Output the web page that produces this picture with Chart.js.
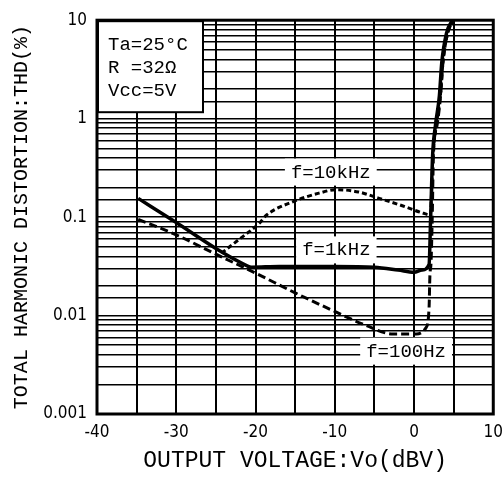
<!DOCTYPE html>
<html>
<head>
<meta charset="utf-8">
<script src="https://cdn.jsdelivr.net/npm/chart.js@4.4.1/dist/chart.umd.min.js"></script>
<style>
  html, body { margin: 0; padding: 0; background: #fff; overflow: hidden; }
  #wrap { width: 504px; height: 485px; overflow: hidden; }
</style>
</head>
<body>
<div id="wrap"><canvas id="thdChart" width="511" height="485"></canvas></div>
<script>
// values (x = Vo in dBV, y = THD in %)
const vo1k   = [-34.8, -30, -25, -22, -20.5, -17, -10, -5, -2, 0, 1, 1.9, 2.1, 2.35, 2.7, 3.2, 3.5, 4.1, 4.85];
const thd1k  = [0.155, 0.088, 0.048, 0.035, 0.031, 0.0315, 0.0315, 0.031, 0.029, 0.0275, 0.029, 0.033, 0.1, 0.43, 0.85, 1.7, 3.7, 7.4, 10];

const vo10k  = [-24.3, -22, -19.5, -18.6, -15.3, -12, -9.8, -7, -4.4, -1.8, 1.1, 2.05, 2.4, 2.85, 3.35, 3.65, 4.25, 5];
const thd10k = [0.043, 0.06, 0.087, 0.105, 0.143, 0.175, 0.19, 0.18, 0.155, 0.133, 0.11, 0.105, 0.43, 0.9, 1.8, 3.7, 7.4, 10];

const vo100  = [-34.8, -30, -25, -20, -15, -10, -6, -2.7, 0.3, 1.5, 1.9, 2.0, 2.15, 2.3, 2.45, 2.9, 3.35, 3.65, 4.25, 5];
const thd100 = [0.095, 0.066, 0.042, 0.027, 0.017, 0.011, 0.0079, 0.0065, 0.0065, 0.0075, 0.012, 0.025, 0.035, 0.1, 0.43, 0.85, 1.7, 3.7, 7.4, 10];

const yTicks = [0.001, 0.01, 0.1, 1, 10];
const yTickLabels = ['0.001', '0.01', '0.1', '1', '10'];
const xTicks = [-40, -30, -20, -10, 0, 10];
const xTickLabels = ['-40', '-30', '-20', '-10', '0', '10'];

const curveNames = ['f=10kHz', 'f=1kHz', 'f=100Hz'];
const curveNameX = [-10.5, -9.8, -1.0];
const curveNameY = [0.29, 0.047, 0.0044];

const conditions = ['Ta=25°C', 'R =32Ω', 'Vcc=5V'];

const toPoints = (xs, ys) => xs.map((v, i) => ({ x: v, y: ys[i] }));
const monoFont = '"Liberation Mono", "DejaVu Sans Mono", monospace';
const tickFont = '"DejaVu Sans Condensed", "Liberation Sans Narrow", sans-serif';

// frame, condition box and curve labels
const overlay = {
    id: 'overlay',
    afterDatasetsDraw(chart) {
        const { ctx, chartArea: a, scales: { x, y } } = chart;
        ctx.save();

        // condition box in the top left corner
        ctx.fillStyle = '#fff';
        ctx.fillRect(a.left, a.top, 106, 92);
        ctx.strokeStyle = '#000';
        ctx.lineWidth = 2;
        ctx.strokeRect(a.left + 1, a.top + 1, 105, 91);
        ctx.fillStyle = '#000';
        ctx.font = '19px ' + monoFont;
        ctx.textBaseline = 'middle';
        ctx.textAlign = 'left';
        conditions.forEach((t, i) => ctx.fillText(t, a.left + 11, a.top + 25 + i * 23));

        // curve names on white patches
        ctx.textAlign = 'center';
        curveNames.forEach((t, i) => {
            const px = x.getPixelForValue(curveNameX[i]);
            const py = y.getPixelForValue(curveNameY[i]);
            const w = ctx.measureText(t).width + 12;
            ctx.fillStyle = '#fff';
            ctx.fillRect(px - w / 2, py - 13, w, 27);
            ctx.fillStyle = '#000';
            ctx.fillText(t, px, py + 1);
        });

        // heavy outer frame
        ctx.lineWidth = 3;
        ctx.strokeStyle = '#000';
        ctx.strokeRect(a.left, a.top, a.right - a.left, a.bottom - a.top);
        ctx.restore();
    }
};

const ctx = document.getElementById('thdChart').getContext('2d');
const thdChart = new Chart(ctx, {
    type: 'line',
    data: {
        datasets: [
            {
                label: 'f=1kHz',
                data: toPoints(vo1k, thd1k),
                borderColor: '#000',
                borderWidth: 3.5,
                pointRadius: 0,
                cubicInterpolationMode: 'monotone'
            },
            {
                label: 'f=10kHz',
                data: toPoints(vo10k, thd10k),
                borderColor: '#000',
                borderWidth: 3,
                borderDash: [5, 3],
                pointRadius: 0,
                cubicInterpolationMode: 'monotone'
            },
            {
                label: 'f=100Hz',
                data: toPoints(vo100, thd100),
                borderColor: '#000',
                borderWidth: 3,
                borderDash: [8, 4],
                pointRadius: 0,
                cubicInterpolationMode: 'monotone'
            }
        ]
    },
    options: {
        responsive: false,
        animation: false,
        layout: { padding: { top: 17, left: 0, right: 0, bottom: 0 } },
        plugins: {
            legend: { display: false },
            tooltip: { enabled: false }
        },
        scales: {
            x: {
                type: 'linear',
                min: -40,
                max: 10,
                afterFit: (s) => { s.height = 71; },
                grid: { color: '#000', lineWidth: 2, drawTicks: false },
                border: { display: false },
                ticks: {
                    stepSize: 5,
                    autoSkip: false,
                    maxRotation: 0,
                    padding: 8,
                    color: '#000',
                    font: { family: tickFont, size: 17 },
                    callback: (v) => {
                        const i = xTicks.indexOf(v);
                        return i >= 0 ? xTickLabels[i] : '';
                    }
                },
                title: {
                    display: true,
                    text: 'OUTPUT VOLTAGE:Vo(dBV)',
                    color: '#000',
                    font: { family: monoFont, size: 23 },
                    padding: { top: 0, bottom: 10 }
                }
            },
            y: {
                type: 'logarithmic',
                min: 0.001,
                max: 10,
                afterFit: (s) => { s.width = 97; },
                grid: { color: '#000', lineWidth: 1.5, drawTicks: false },
                border: { display: false },
                ticks: {
                    autoSkip: false,
                    padding: 10,
                    color: '#000',
                    font: { family: tickFont, size: 17 },
                    callback: (v) => {
                        const i = yTicks.findIndex(t => Math.abs(Math.log10(t) - Math.log10(v)) < 1e-6);
                        return i >= 0 ? yTickLabels[i] : '';
                    }
                },
                title: {
                    display: true,
                    text: 'TOTAL HARMONIC DISTORTION:THD(%)',
                    color: '#000',
                    font: { family: monoFont, size: 20 },
                    padding: { top: 10, bottom: 0 }
                }
            }
        }
    },
    plugins: [overlay]
});
</script>
</body>
</html>
